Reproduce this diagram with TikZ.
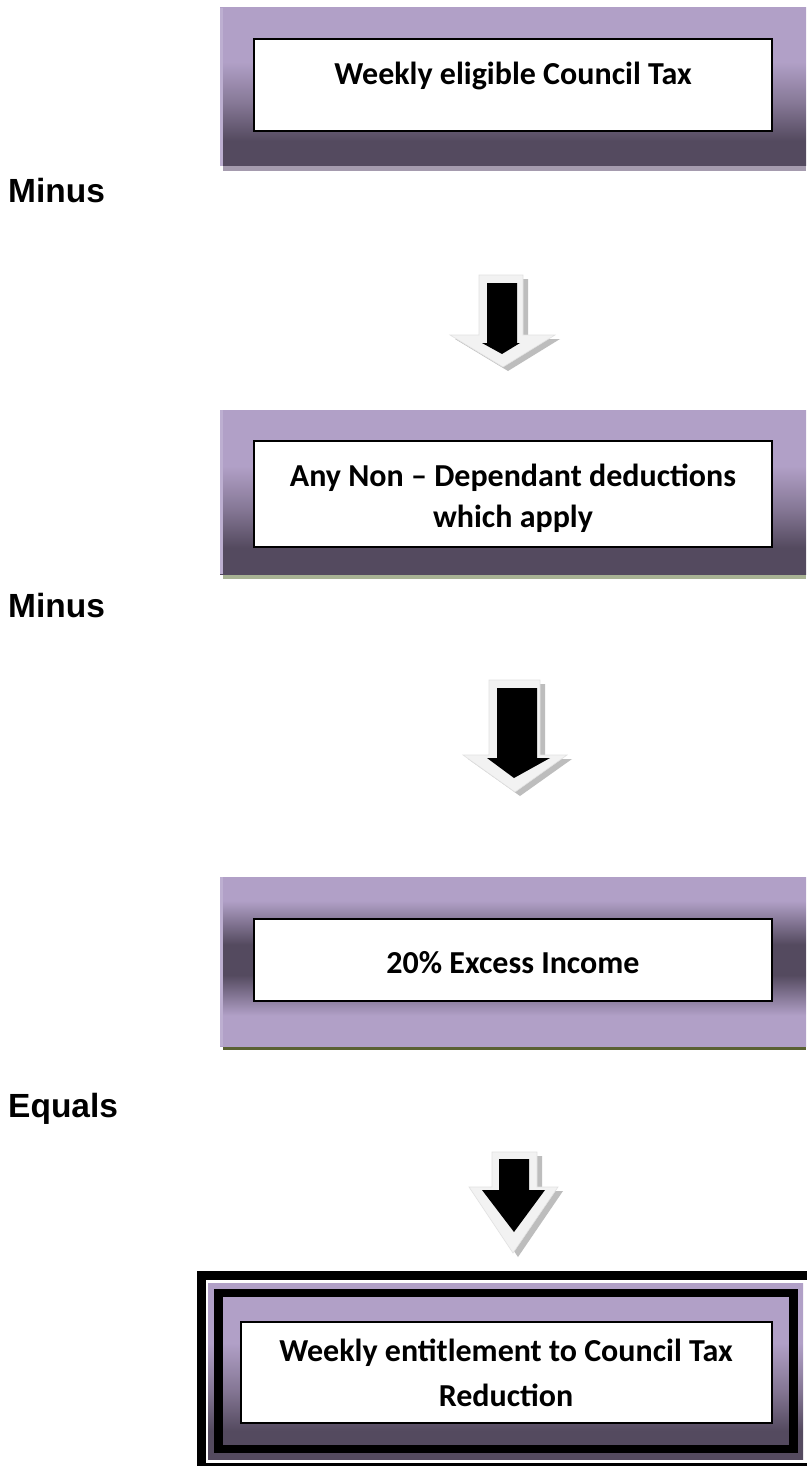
\documentclass[tikz,border=0pt]{standalone}
\usepackage{fontspec}
\setmainfont{Carlito}
\newfontfamily\arialb{Liberation Sans}
\definecolor{plav}{HTML}{B1A0C7}
\definecolor{pmid}{HTML}{867896}
\definecolor{pdark}{HTML}{544A5F}
\definecolor{pedge}{HTML}{BDAFD1}
\definecolor{shgray}{HTML}{A59BAE}
\definecolor{shgreen}{HTML}{A8B294}
\definecolor{sholive}{HTML}{5A6133}
\definecolor{arlight}{HTML}{F2F2F2}
\definecolor{arshadow}{HTML}{BDBDBD}
\pgfdeclareverticalshading{panelshade}{100bp}{color(0bp)=(pdark); color(33bp)=(pdark); color(45bp)=(pmid); color(58bp)=(plav); color(100bp)=(plav)}
\pgfdeclareverticalshading{bandshade}{100bp}{color(0bp)=(plav); color(34bp)=(plav); color(46bp)=(pdark); color(55bp)=(pdark); color(68bp)=(plav); color(100bp)=(plav)}
\begin{document}
\begin{tikzpicture}[x=1pt,y=-1pt,
  txt/.style={font=\fontsize{32}{40}\selectfont\bfseries, anchor=base, inner sep=0pt},
  lbl/.style={font=\arialb\fontsize{33.5}{40}\selectfont\bfseries, anchor=base west, inner sep=0pt},
  whitebox/.style={draw=black, line width=1.6pt, fill=white},
  arlightst/.style={fill=arlight, draw=arlight!85!gray, line width=0.6pt},
  arshadowst/.style={fill=arshadow},
  arblack/.style={fill=black}]
\useasboundingbox (0,0) rectangle (806,1466);
\fill[white] (0,0) rectangle (806,1466);

% ---------- Box 1 ----------
\fill[shgray] (223,165) rectangle (806,171);
\shade[shading=panelshade] (220,8) rectangle (806,166);
\fill[pedge] (220,8) rectangle (223,166);
\draw[whitebox] (254,39) rectangle (772,131);
\node[txt] (t1) at (513,85) {Weekly eligible Council Tax};
\node[lbl] (m1) at (8,202) {Minus};

% ---------- Arrow 1 ----------
\fill[arshadowst] (484,279) -- (528,279) -- (528,339) -- (560,339) -- (508,371) -- (455,339) -- (484,339) -- cycle;
\path[arlightst] (479,275) -- (523,275) -- (523,335) -- (555,335) -- (503,367) -- (450,335) -- (479,335) -- cycle;
\fill[arblack] (487,283) -- (517,283) -- (517,343) -- (520,343) -- (502,354) -- (482,343) -- (487,343) -- cycle;

% ---------- Box 2 ----------
\fill[shgreen] (223,573) rectangle (806,579);
\shade[shading=panelshade] (220,410) rectangle (806,574);
\fill[pedge] (220,410) rectangle (223,574);
\draw[whitebox] (254,441) rectangle (772,547);
\node[txt] (t2a) at (513,486) {Any Non -- Dependant deductions};
\node[txt] (t2b) at (513,527) {which apply};
\node[lbl] (m2) at (8,617) {Minus};

% ---------- Arrow 2 ----------
\fill[arshadowst] (494,684) -- (545,684) -- (545,759) -- (572,759) -- (520,796) -- (468,759) -- (494,759) -- cycle;
\path[arlightst] (489,680) -- (540,680) -- (540,755) -- (567,755) -- (515,792) -- (463,755) -- (489,755) -- cycle;
\fill[arblack] (497,688) -- (537,688) -- (537,758) -- (550,758) -- (514,778) -- (487,758) -- (497,758) -- cycle;

% ---------- Box 3 ----------
\fill[sholive] (223,1045) rectangle (806,1050);
\shade[shading=bandshade] (220,877) rectangle (806,1046);
\fill[pedge] (220,877) rectangle (223,1046);
\draw[whitebox] (254,919) rectangle (772,1001);
\node[txt] (t3) at (513,973) {20\% Excess Income};
\node[lbl] (m3) at (8,1117) {Equals};

% ---------- Arrow 3 ----------
\fill[arshadowst] (497,1156) -- (542,1156) -- (542,1191) -- (563,1191) -- (518,1257) -- (474,1191) -- (497,1191) -- cycle;
\path[arlightst] (492,1152) -- (537,1152) -- (537,1187) -- (558,1187) -- (513,1253) -- (469,1187) -- (492,1187) -- cycle;
\fill[arblack] (499,1159) -- (529,1159) -- (529,1190) -- (545,1190) -- (514,1232) -- (482,1190) -- (499,1190) -- cycle;

% ---------- Box 4 ----------
\draw[black, line width=9pt] (201.5,1275.5) rectangle (812,1467);
\shade[shading=panelshade] (208,1283) rectangle (803,1459);
\draw[black, line width=8.5pt] (218.5,1293) rectangle (793.5,1449);
\draw[whitebox] (241,1322) rectangle (772,1423);
\node[txt] (t4a) at (506,1361) {Weekly entitlement to Council Tax};
\node[txt] (t4b) at (506,1406) {Reduction};
\end{tikzpicture}
\end{document}
